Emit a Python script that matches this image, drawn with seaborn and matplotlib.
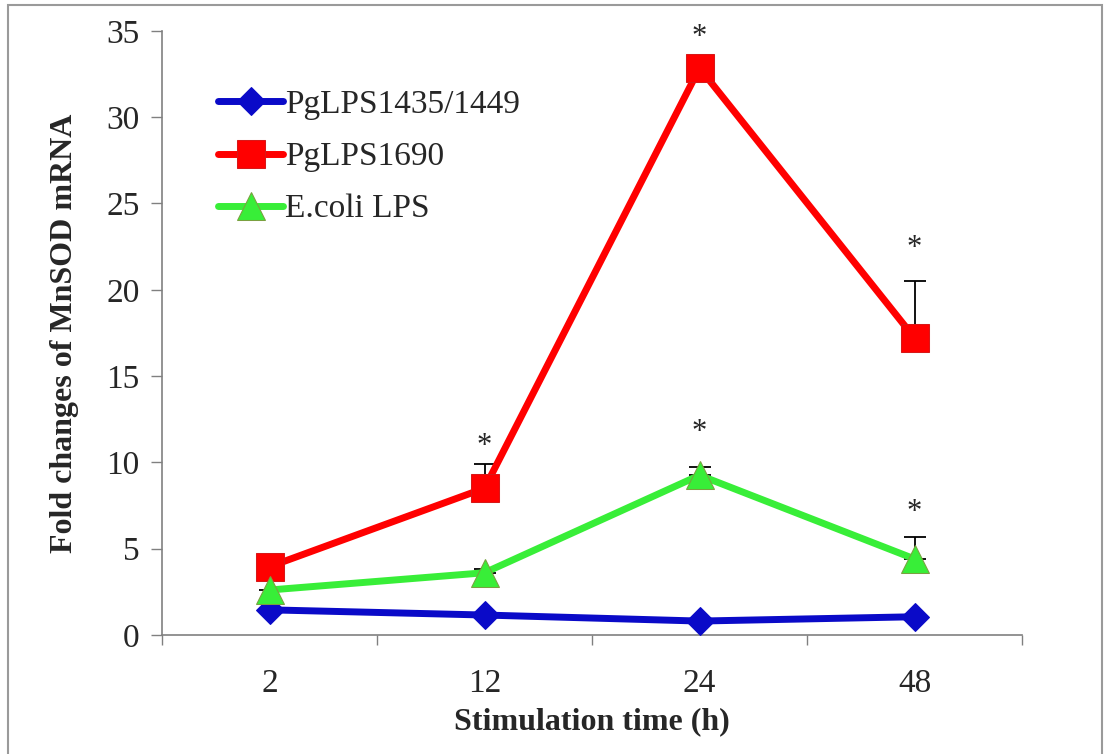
import seaborn as sns
import pandas as pd
import matplotlib.pyplot as plt
from matplotlib.patches import Rectangle

# data
times = ['2', '12', '24', '48']
pg1435 = [1.45, 1.15, 0.8, 1.05]
pg1690 = [3.95, 8.5, 32.85, 17.2]
ecoli = [2.6, 3.6, 9.25, 4.4]
pg1690_err = [0.0, 1.4, 0.0, 3.3]
ecoli_err = [0.7, 0.2, 0.45, 1.3]
star_x = ['12', '24', '48', '24', '48']
star_y = [10.9, 34.6, 22.4, 11.7, 7.1]

sns.set_style('white')
plt.rcParams['font.family'] = ['Liberation Serif', 'DejaVu Serif']

fig = plt.figure(figsize=(11.05, 7.54), dpi=100)
ax = fig.add_axes([0.1466, 0.158, 0.7784, 0.801])

# error bars (upper only), drawn under the lines
for vals, err in [(pg1690, pg1690_err), (ecoli, ecoli_err)]:
    ax.errorbar(times, vals, yerr=[[0] * len(err), err], fmt='none',
                ecolor='black', elinewidth=1.3, capsize=8, capthick=1.3, zorder=1)

sns.lineplot(x=times, y=pg1435, sort=False, ax=ax, color='#0a0ac8', lw=5,
             marker='D', markersize=14, markeredgecolor='#0a0ac8',
             label='PgLPS1435/1449', zorder=3)
sns.lineplot(x=times, y=pg1690, sort=False, ax=ax, color='#ff0000', lw=5,
             marker='s', markersize=20, markeredgecolor='#d81818',
             label='PgLPS1690', zorder=3)
sns.lineplot(x=times, y=ecoli, sort=False, ax=ax, color='#38ee38', lw=5,
             marker='^', markersize=20, markeredgecolor='#7aa040',
             label='E.coli LPS', zorder=3)

for sx, sy in zip(star_x, star_y):
    ax.text(sx, sy, '*', ha='center', va='center', fontsize=22)

ax.set_xlim(-0.5, 3.5)
ax.set_ylim(0, 35)
ax.set_yticks(range(0, 36, 5))
ax.set_xticks([-0.5, 0.5, 1.5, 2.5, 3.5], minor=True)
ax.tick_params(axis='x', which='major', length=0, labelsize=24, pad=24)
ax.tick_params(axis='x', which='minor', length=7, width=1, color='#808080', direction='out')
ax.tick_params(axis='y', length=8, width=1, color='#808080', direction='out',
               labelsize=24, pad=8, left=True)
ax.xaxis.set_tick_params(bottom=True, which='minor')

for s in ['top', 'right']:
    ax.spines[s].set_visible(False)
for s in ['left', 'bottom']:
    ax.spines[s].set_color('#808080')
    ax.spines[s].set_linewidth(1.2)

ax.set_xlabel('Stimulation time (h)', fontsize=23, fontweight='bold', labelpad=6)
ax.set_ylabel('Fold changes of MnSOD mRNA', fontsize=23, fontweight='bold', labelpad=20)

ax.legend(loc='upper left', bbox_to_anchor=(0.05, 0.925), frameon=False,
          fontsize=24, handlelength=1.95, handletextpad=0.05, labelspacing=0.65,
          borderaxespad=0)

# grey frame around the figure
fig.patches.append(Rectangle((0.007, -0.01), 0.99, 1.004, transform=fig.transFigure,
                             fill=False, edgecolor='#9a9a9a', lw=1.5))

fig.savefig('out.png', dpi=100)
